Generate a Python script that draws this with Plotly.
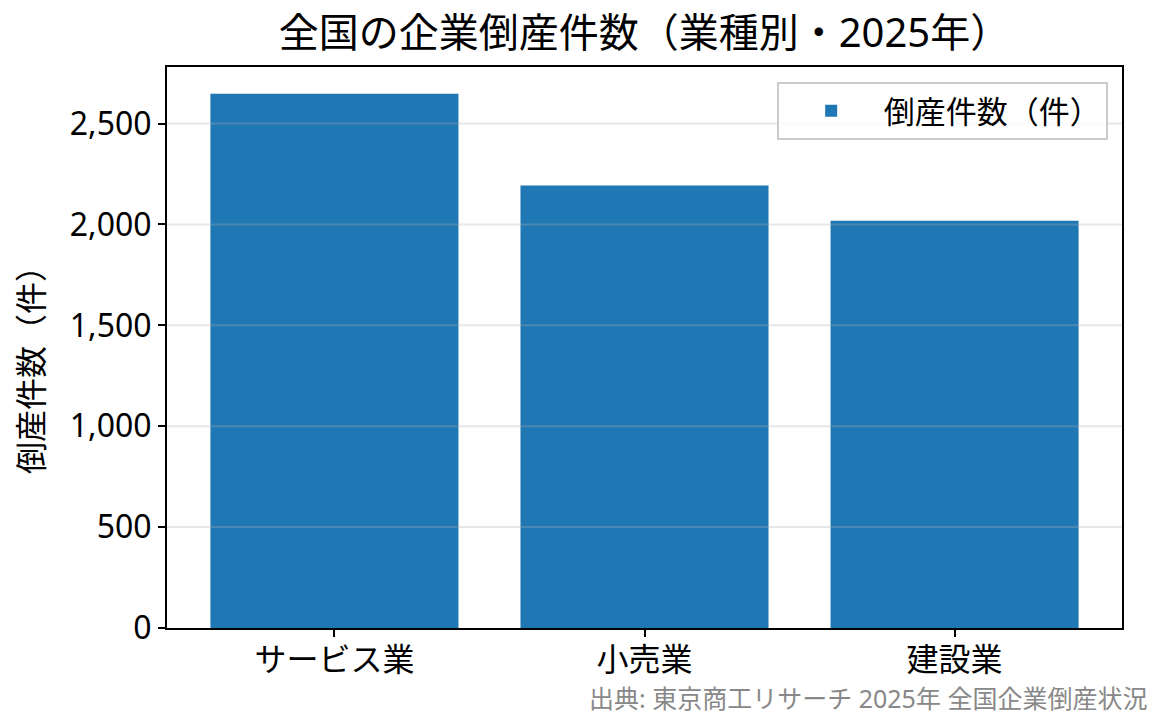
import plotly.graph_objects as go

categories = ["サービス業", "小売業", "建設業"]
counts = [2648, 2193, 2019]
y_ticks = [0, 500, 1000, 1500, 2000, 2500]
y_tick_labels = ["0", "500", "1,000", "1,500", "2,000", "2,500"]

title_text = "全国の企業倒産件数（業種別・2025年）"
series_name = "倒産件数（件）"
y_title = "倒産件数（件）"
source_text = "出典: 東京商工リサーチ 2025年 全国企業倒産状況"

FONT = "Noto Sans, Noto Sans CJK JP"
BAR_COLOR = "#1f77b4"

fig = go.Figure()
fig.add_trace(go.Bar(
    x=categories, y=counts, name=series_name,
    marker=dict(color=BAR_COLOR, line=dict(width=0)),
    width=0.8, showlegend=True,
))

ymax = max(counts) * 1.05

# grid lines drawn above bars (semi-transparent), matching the reference
for t in y_ticks[1:]:
    fig.add_shape(type="line", xref="paper", x0=0, x1=1, yref="y", y0=t, y1=t,
                  line=dict(color="rgba(176,176,176,0.3)", width=2), layer="above")

fig.update_layout(
    width=1165, height=725,
    margin=dict(l=167, r=43, t=67, b=97),
    paper_bgcolor="white", plot_bgcolor="white",
    font=dict(family=FONT, size=32, color="black"),
    title=dict(text=title_text, x=0.5, xref="paper", xanchor="center",
               y=1 - 33 / 725, yref="container", yanchor="middle",
               font=dict(family=FONT, size=40, color="black")),
    xaxis=dict(range=[-0.54, 2.54], showgrid=False, showline=True, linecolor="black",
               linewidth=2, mirror=True, ticks="outside", ticklen=7, tickwidth=2,
               tickcolor="black", tickfont=dict(family=FONT, size=32),
               ticklabelstandoff=-4),
    yaxis=dict(range=[0, ymax], showgrid=False, showline=True, linecolor="black",
               linewidth=2, mirror=True, ticks="outside", ticklen=7, tickwidth=2,
               tickcolor="black", tickvals=y_ticks, ticktext=y_tick_labels,
               tickfont=dict(family=FONT, size=32), zeroline=False),
    legend=dict(x=0.985, y=0.973, xanchor="right", yanchor="top",
                bgcolor="rgba(255,255,255,0.8)", bordercolor="#cccccc", borderwidth=2,
                itemwidth=95, font=dict(family=FONT, size=31)),
    bargap=0.2,
)

fig.add_annotation(text=y_title, textangle=-90, xref="paper", yref="paper",
                   x=-0.1435, y=0.474, xanchor="center", yanchor="middle",
                   showarrow=False, font=dict(family=FONT, size=32, color="black"))

fig.add_annotation(text=source_text, xref="paper", yref="paper",
                   x=1.028, y=-0.125, xanchor="right", yanchor="middle",
                   showarrow=False, font=dict(family=FONT, size=25, color="#888888"))

fig.write_html("out.html")
